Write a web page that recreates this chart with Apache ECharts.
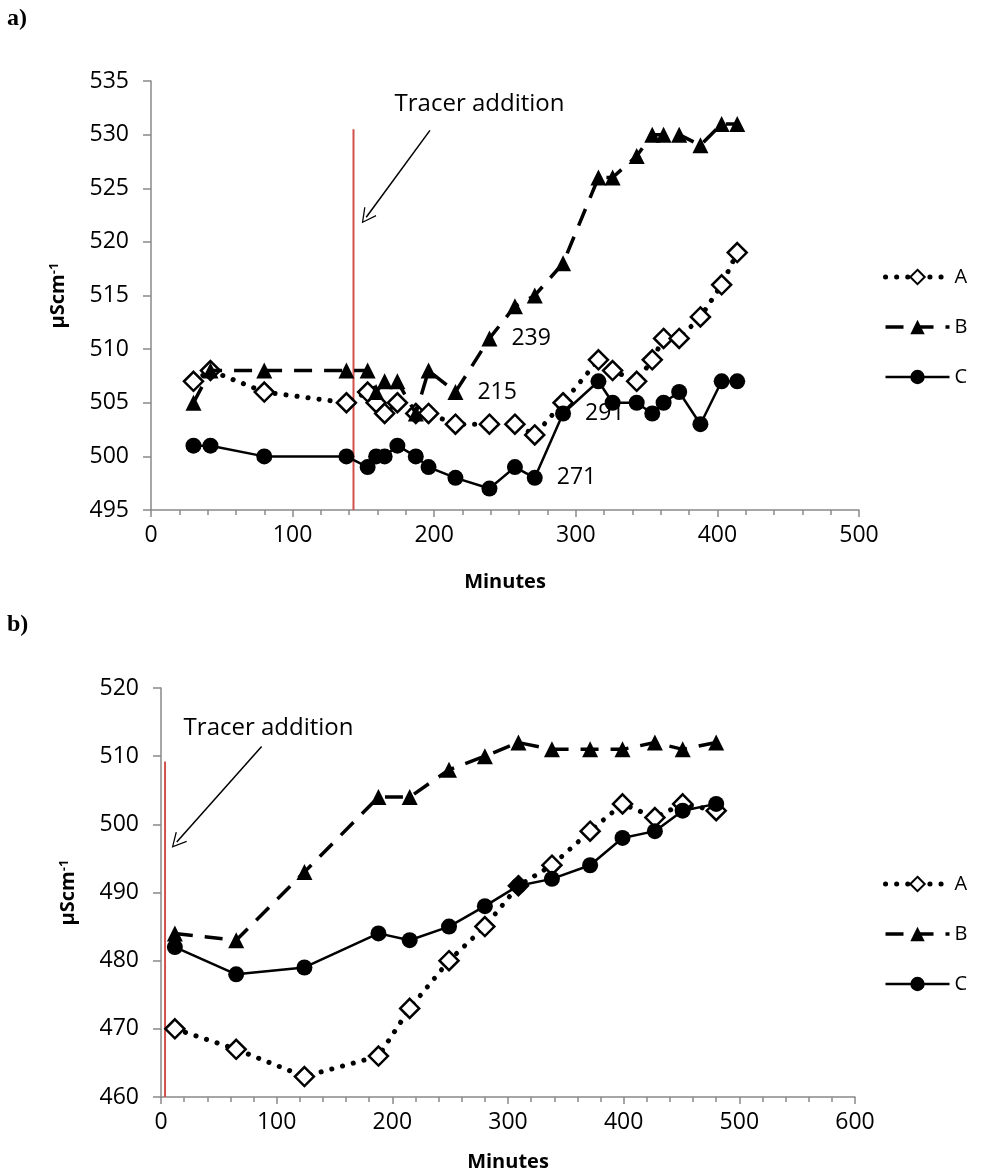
<!DOCTYPE html>
<html>
<head>
<meta charset="utf-8">
<script src="https://cdn.jsdelivr.net/npm/echarts@6/dist/echarts.min.js"></script>
<style>
  html, body { margin: 0; padding: 0; background: #fff; }
  #chart { width: 1001px; height: 1176px; }
</style>
</head>
<body>
<div id="chart"></div>
<script>
// panel a) - sampling times (minutes) and conductivity for the three sites
var topMinutes = [30, 42, 80, 138, 153, 159, 165, 174, 187, 196, 215, 239, 257, 271, 291, 316, 326, 343, 354, 362, 373, 388, 403, 414];
var topA = [507, 508, 506, 505, 506, 505, 504, 505, 504, 504, 503, 503, 503, 502, 505, 509, 508, 507, 509, 511, 511, 513, 516, 519];
var topB = [505, 508, 508, 508, 508, 506, 507, 507, 504, 508, 506, 511, 514, 515, 518, 526, 526, 528, 530, 530, 530, 529, 531, 531];
var topC = [501, 501, 500, 500, 499, 500, 500, 501, 500, 499, 498, 497, 499, 498, 504, 507, 505, 505, 504, 505, 506, 503, 507, 507];
var topLabelsB = [215, 239];
var topLabelsC = [271, 291];
var topTracer = 143;

// panel b)
var botMinutes = [12, 65, 124, 188, 215, 249, 280, 309, 338, 371, 399, 427, 451, 480];
var botA = [470, 467, 463, 466, 473, 480, 485, 491, 494, 499, 503, 501, 503, 502];
var botB = [484, 483, 493, 504, 504, 508, 510, 512, 511, 511, 511, 512, 511, 512];
var botC = [482, 478, 479, 484, 483, 485, 488, 491, 492, 494, 498, 499, 502, 503];
var botTracer = 3.5;

var FONT = '"Open Sans", sans-serif';
var axisGrey = '#898989';

function pairs(xs, ys, labelled) {
  return xs.map(function (x, i) {
    var item = { value: [x, ys[i]] };
    if (labelled && labelled.indexOf(x) >= 0) {
      item.label = { show: true, position: 'right', distance: 14, formatter: String(x), fontSize: 23, fontFamily: FONT, color: '#000' };
    }
    return item;
  });
}

var styles = {
  A: {
    symbol: 'diamond', symbolSize: 19,
    itemStyle: { color: '#fff', borderColor: '#000', borderWidth: 2.5 },
    lineStyle: { color: '#000', width: 5, type: [0.1, 11], cap: 'round' }
  },
  B: {
    symbol: 'triangle', symbolSize: 16,
    itemStyle: { color: '#000' },
    lineStyle: { color: '#000', width: 3.5, type: [18, 12] }
  },
  C: {
    symbol: 'circle', symbolSize: 16,
    itemStyle: { color: '#000' },
    lineStyle: { color: '#000', width: 2.5 }
  }
};

function mkSeries(name, idx, xs, ys, labelled) {
  var s = styles[name];
  return {
    name: name, type: 'line', xAxisIndex: idx, yAxisIndex: idx,
    data: pairs(xs, ys, labelled),
    symbol: s.symbol, symbolSize: s.symbolSize,
    itemStyle: s.itemStyle, lineStyle: s.lineStyle,
    showAllSymbol: true, animation: false, z: name === 'A' ? 2 : (name === 'B' ? 3 : 4)
  };
}

// the red "tracer addition" marker with its arrow and caption
function tracer(idx, x, y0, y1, arrowFrom, arrowTo, textAt) {
  return {
    type: 'line', xAxisIndex: idx, yAxisIndex: idx, silent: true,
    data: [[x, y0], [x, y1]], symbol: 'none',
    lineStyle: { color: '#d2504b', width: 2 },
    animation: false, z: 1,
    markLine: {
      silent: true, animation: false,
      symbol: ['none', 'path://M10,0 L20,19 L18.6,20 L10,3.5 L1.4,20 L0,19 Z'],
      symbolSize: [15, 15],
      lineStyle: { color: '#000', width: 1.5, type: 'solid' },
      label: { show: false },
      data: [[{ coord: arrowFrom }, { coord: arrowTo }]]
    },
    markPoint: {
      silent: true, animation: false, symbol: 'circle', symbolSize: 0,
      label: { show: true, position: 'inside', formatter: 'Tracer addition', fontSize: 24, fontFamily: FONT, color: '#000' },
      data: [{ coord: textAt }]
    }
  };
}

function xAxisCfg(idx, max, nameGap) {
  return {
    gridIndex: idx, type: 'value', min: 0, max: max, interval: 100,
    name: 'Minutes', nameLocation: 'middle', nameGap: nameGap,
    nameTextStyle: { fontFamily: FONT, fontWeight: 'bold', fontSize: 20, color: '#000' },
    axisLine: { onZero: false, lineStyle: { color: axisGrey, width: 1.5 } },
    axisTick: { show: true, length: 7, lineStyle: { color: axisGrey, width: 1.5 } },
    minorTick: { show: true, splitNumber: 5, length: 5, lineStyle: { color: axisGrey, width: 1.5 } },
    splitLine: { show: false },
    axisLabel: { fontFamily: FONT, fontSize: 23, color: '#000', margin: 14 }
  };
}

function yAxisCfg(idx, min, max, interval) {
  return {
    gridIndex: idx, type: 'value', min: min, max: max, interval: interval,
    name: '{n|μScm}{s|-1}', nameLocation: 'middle', nameGap: 82, nameRotate: 90,
    nameTextStyle: {
      rich: {
        n: { fontFamily: FONT, fontWeight: 'bold', fontSize: 20, color: '#000' },
        s: { fontFamily: FONT, fontWeight: 'bold', fontSize: 13, color: '#000', verticalAlign: 'top', padding: [0, 0, 8, 0] }
      }
    },
    axisLine: { show: true, onZero: false, lineStyle: { color: axisGrey, width: 1.5 } },
    axisTick: { show: true, length: 8, lineStyle: { color: axisGrey, width: 1.5 } },
    splitLine: { show: false },
    axisLabel: { fontFamily: FONT, fontSize: 23, color: '#000', margin: 22 }
  };
}

function legendCfg(top) {
  return {
    data: ['A', 'B', 'C'], orient: 'vertical', left: 878, top: top,
    itemWidth: 64, itemHeight: 18, itemGap: 30, selectedMode: false,
    lineStyle: { width: 'inherit' },
    textStyle: { fontFamily: FONT, fontSize: 20, color: '#000' }
  };
}

var chart = echarts.init(document.getElementById('chart'), null, { renderer: 'canvas' });

var option = {
  backgroundColor: '#fff',
  animation: false,
  title: [
    { text: 'a)', left: 2, top: 2, textStyle: { fontFamily: '"Liberation Serif", serif', fontWeight: 'bold', fontSize: 24, color: '#000' } },
    { text: 'b)', left: 2, top: 608, textStyle: { fontFamily: '"Liberation Serif", serif', fontWeight: 'bold', fontSize: 24, color: '#000' } }
  ],
  legend: [legendCfg(262), legendCfg(869)],
  grid: [
    { left: 151, top: 81, width: 708, height: 429 },
    { left: 161, top: 688, width: 694, height: 409 }
  ],
  xAxis: [xAxisCfg(0, 500, 62), xAxisCfg(1, 600, 55)],
  yAxis: [yAxisCfg(0, 495, 535, 5), yAxisCfg(1, 460, 520, 10)],
  series: [
    tracer(0, topTracer, 495, 530.5, [197, 530.4], [152, 522.3], [232, 532.8]),
    mkSeries('A', 0, topMinutes, topA),
    mkSeries('B', 0, topMinutes, topB, topLabelsB),
    mkSeries('C', 0, topMinutes, topC, topLabelsC),
    tracer(1, botTracer, 460, 509.2, [87, 511.4], [13.6, 497.4], [93, 514.1]),
    mkSeries('A', 1, botMinutes, botA),
    mkSeries('B', 1, botMinutes, botB),
    mkSeries('C', 1, botMinutes, botC)
  ]
};

chart.setOption(option);
window.addEventListener('resize', function () { chart.resize(); });
</script>
</body>
</html>
